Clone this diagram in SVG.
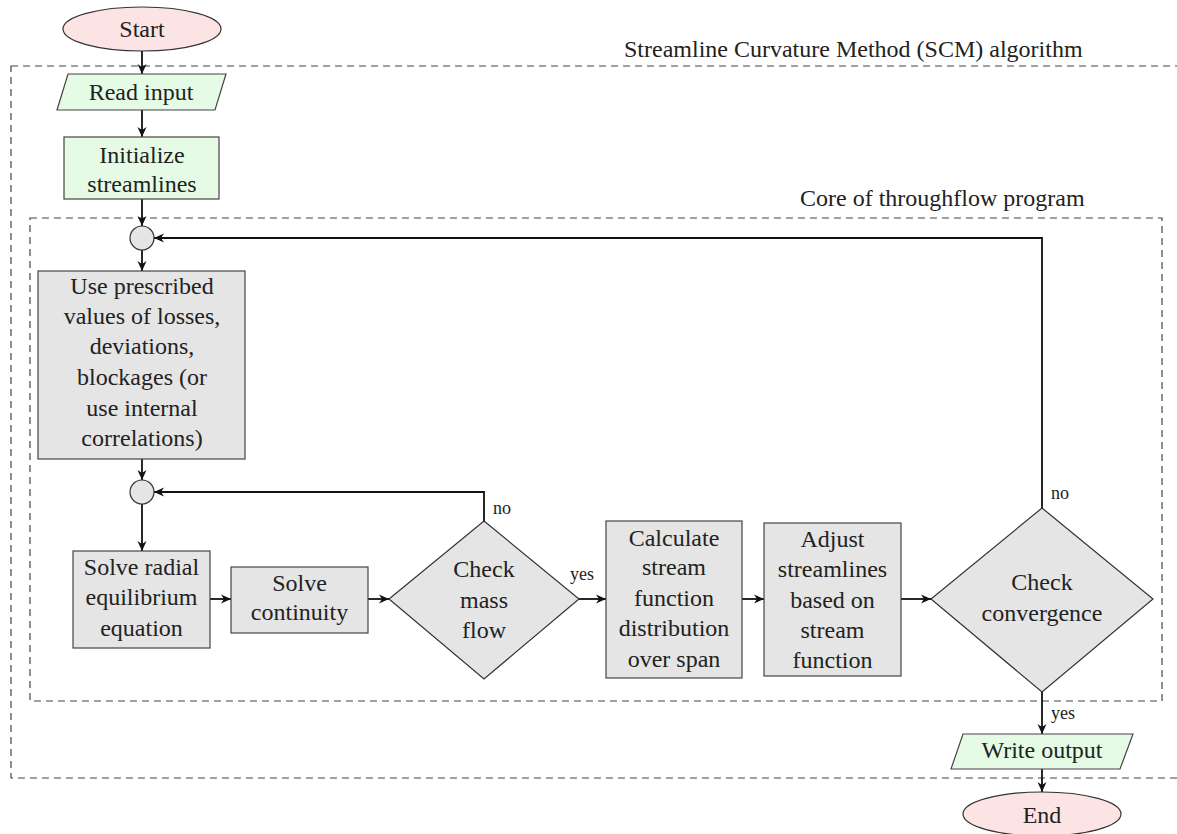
<svg xmlns="http://www.w3.org/2000/svg" width="1177" height="834" viewBox="0 0 1177 834">
<style>
text{font-family:"Liberation Serif","DejaVu Serif","Noto Serif",serif;font-size:24px;fill:#222;}
.c{text-anchor:middle;}
.lbl{font-size:18px;}
.term{fill:#fde4e4;stroke:#333;stroke-width:1.2;}
.io{fill:#e5fbe5;stroke:#444;stroke-width:1.2;}
.proc{fill:#e5e5e5;stroke:#444;stroke-width:1.2;}
.dec{fill:#e5e5e5;stroke:#333;stroke-width:1.2;}
.join{fill:#e5e5e5;stroke:#333;stroke-width:1.2;}
.box{fill:none;stroke:#444;stroke-width:1.2;stroke-dasharray:7 5;}
.conn{fill:none;stroke:#111;stroke-width:1.8;marker-end:url(#arr);}
</style>
<defs>
<marker id="arr" markerUnits="userSpaceOnUse" markerWidth="12" markerHeight="10" refX="10" refY="5" orient="auto">
<path d="M0,0.5 L10,5 L0,9.5 L3,5 Z" fill="#111"/>
</marker>
</defs>
<rect width="1177" height="834" fill="#fff"/>
<g id="scm-box">
<rect class="box" x="11" y="66" width="1175" height="712"/>
<text x="624" y="57">Streamline Curvature Method (SCM) algorithm</text>
</g>
<g id="core-box">
<rect class="box" x="30" y="218" width="1132" height="483"/>
<text x="800" y="206">Core of throughflow program</text>
</g>
<g id="connectors">
<path class="conn" d="M142,51 L142,74"/>
<path class="conn" d="M142,110 L142,137"/>
<path class="conn" d="M142,199 L142,226"/>
<path class="conn" d="M142,250 L142,271"/>
<path class="conn" d="M142,459 L142,480"/>
<path class="conn" d="M142,504 L142,551"/>
<path class="conn" d="M210,599 L231,599"/>
<path class="conn" d="M368,599 L389,599"/>
<path class="conn" d="M579,599 L606,599"/>
<path class="conn" d="M742,599 L764,599"/>
<path class="conn" d="M901,599 L931,599"/>
<path class="conn" d="M1042,508 L1042,238 L154,238"/>
<path class="conn" d="M484,521 L484,492 L154,492"/>
<path class="conn" d="M1042,692 L1042,734"/>
<path class="conn" d="M1042,769 L1042,792"/>
<text class="lbl" x="493" y="514">no</text>
<text class="lbl" x="570" y="580">yes</text>
<text class="lbl" x="1051" y="499">no</text>
<text class="lbl" x="1051" y="719">yes</text>
</g>
<g id="start">
<ellipse class="term" cx="142" cy="29" rx="79" ry="22"/>
<text class="c" x="142" y="37">Start</text>
</g>
<g id="read-input">
<polygon class="io" points="68,74 226,74 215,110 57,110"/>
<text class="c" x="141" y="100">Read input</text>
</g>
<g id="init">
<rect class="io" x="64" y="137" width="155" height="62"/>
<text class="c" x="142" y="163">Initialize</text>
<text class="c" x="142" y="192">streamlines</text>
</g>
<g id="join1">
<circle class="join" cx="142" cy="238" r="12"/>
</g>
<g id="prescribed">
<rect class="proc" x="38" y="271" width="207" height="188"/>
<text class="c" x="142" y="294">Use prescribed</text>
<text class="c" x="142" y="324">values of losses,</text>
<text class="c" x="142" y="354">deviations,</text>
<text class="c" x="142" y="385">blockages (or</text>
<text class="c" x="142" y="416">use internal</text>
<text class="c" x="142" y="446">correlations)</text>
</g>
<g id="join2">
<circle class="join" cx="142" cy="492" r="12"/>
</g>
<g id="radial">
<rect class="proc" x="73" y="551" width="137" height="97"/>
<text class="c" x="141.5" y="575">Solve radial</text>
<text class="c" x="141.5" y="605">equilibrium</text>
<text class="c" x="141.5" y="636">equation</text>
</g>
<g id="continuity">
<rect class="proc" x="231" y="567" width="137" height="66"/>
<text class="c" x="299.5" y="591">Solve</text>
<text class="c" x="299.5" y="620">continuity</text>
</g>
<g id="mass-flow">
<polygon class="dec" points="484,521 579,599 484,679 389,599"/>
<text class="c" x="484" y="577">Check</text>
<text class="c" x="484" y="608">mass</text>
<text class="c" x="484" y="638">flow</text>
</g>
<g id="calculate">
<rect class="proc" x="606" y="521" width="136" height="157"/>
<text class="c" x="674" y="546">Calculate</text>
<text class="c" x="674" y="575">stream</text>
<text class="c" x="674" y="606">function</text>
<text class="c" x="674" y="636">distribution</text>
<text class="c" x="674" y="667">over span</text>
</g>
<g id="adjust">
<rect class="proc" x="764" y="523" width="137" height="153"/>
<text class="c" x="832.5" y="547">Adjust</text>
<text class="c" x="832.5" y="577">streamlines</text>
<text class="c" x="832.5" y="608">based on</text>
<text class="c" x="832.5" y="638">stream</text>
<text class="c" x="832.5" y="668">function</text>
</g>
<g id="convergence">
<polygon class="dec" points="1042,508 1153,599 1042,692 931,599"/>
<text class="c" x="1042" y="590">Check</text>
<text class="c" x="1042" y="621">convergence</text>
</g>
<g id="write-output">
<polygon class="io" points="963,734 1133,734 1120,769 951,769"/>
<text class="c" x="1042" y="758">Write output</text>
</g>
<g id="end">
<ellipse class="term" cx="1042" cy="814" rx="79" ry="22"/>
<text class="c" x="1042" y="823">End</text>
</g>
</svg>
